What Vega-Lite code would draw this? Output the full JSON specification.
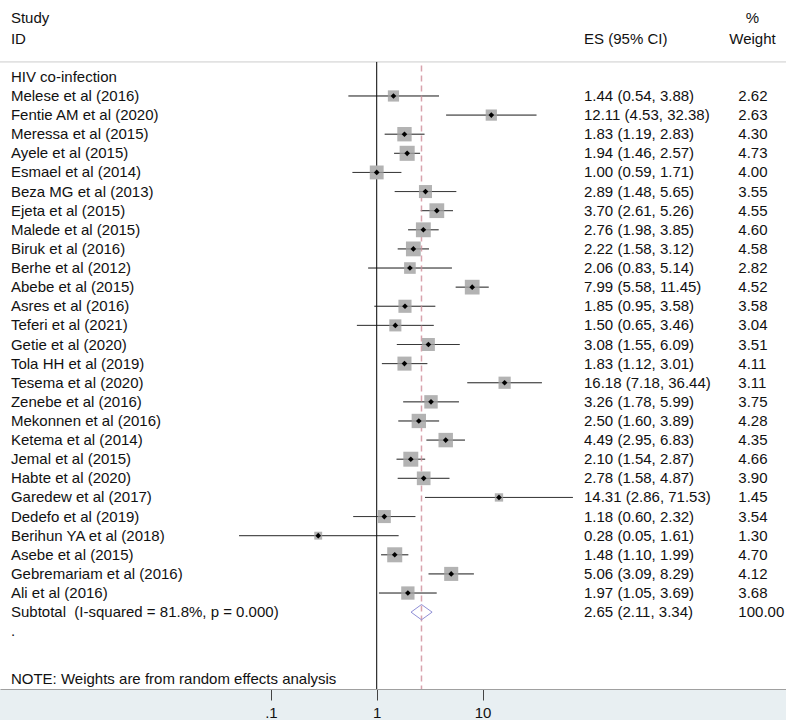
{
  "$schema": "https://vega.github.io/schema/vega-lite/v6.json",
  "width": 786,
  "height": 689,
  "autosize": {"type": "none"},
  "padding": {"left": 0, "right": 0, "top": 0, "bottom": 31},
  "background": "#e8eff2",
  "config": {
    "view": {"fill": "white", "stroke": null},
    "text": {"font": "Liberation Sans", "fontSize": 15, "color": "#111111"},
    "axisX": {
      "grid": false,
      "domainColor": "#a0a0a0",
      "domainWidth": 1,
      "tickColor": "#444444",
      "tickSize": 11,
      "tickWidth": 1,
      "labelFont": "Liberation Sans",
      "labelFontSize": 15,
      "labelColor": "#111111",
      "labelPadding": 5
    }
  },
  "datasets": {
    "rows": [
      {"row": -3.08, "label": "Study", "ci": null, "wt": "%"},
      {"row": -2, "label": "ID", "ci": "ES (95% CI)", "wt": "Weight"},
      {"row": 0, "label": "HIV co-infection", "ci": null, "wt": null},
      {"row": 1, "label": "Melese et al (2016)", "ci": "1.44 (0.54, 3.88)", "wt": "2.62"},
      {"row": 2, "label": "Fentie AM et al (2020)", "ci": "12.11 (4.53, 32.38)", "wt": "2.63"},
      {"row": 3, "label": "Meressa et al (2015)", "ci": "1.83 (1.19, 2.83)", "wt": "4.30"},
      {"row": 4, "label": "Ayele et al (2015)", "ci": "1.94 (1.46, 2.57)", "wt": "4.73"},
      {"row": 5, "label": "Esmael et al (2014)", "ci": "1.00 (0.59, 1.71)", "wt": "4.00"},
      {"row": 6, "label": "Beza MG et al (2013)", "ci": "2.89 (1.48, 5.65)", "wt": "3.55"},
      {"row": 7, "label": "Ejeta et al (2015)", "ci": "3.70 (2.61, 5.26)", "wt": "4.55"},
      {"row": 8, "label": "Malede et al (2015)", "ci": "2.76 (1.98, 3.85)", "wt": "4.60"},
      {"row": 9, "label": "Biruk et al (2016)", "ci": "2.22 (1.58, 3.12)", "wt": "4.58"},
      {"row": 10, "label": "Berhe et al (2012)", "ci": "2.06 (0.83, 5.14)", "wt": "2.82"},
      {"row": 11, "label": "Abebe et al (2015)", "ci": "7.99 (5.58, 11.45)", "wt": "4.52"},
      {"row": 12, "label": "Asres et al (2016)", "ci": "1.85 (0.95, 3.58)", "wt": "3.58"},
      {"row": 13, "label": "Teferi et al (2021)", "ci": "1.50 (0.65, 3.46)", "wt": "3.04"},
      {"row": 14, "label": "Getie et al (2020)", "ci": "3.08 (1.55, 6.09)", "wt": "3.51"},
      {"row": 15, "label": "Tola HH et al (2019)", "ci": "1.83 (1.12, 3.01)", "wt": "4.11"},
      {"row": 16, "label": "Tesema et al (2020)", "ci": "16.18 (7.18, 36.44)", "wt": "3.11"},
      {"row": 17, "label": "Zenebe et al (2016)", "ci": "3.26 (1.78, 5.99)", "wt": "3.75"},
      {"row": 18, "label": "Mekonnen et al (2016)", "ci": "2.50 (1.60, 3.89)", "wt": "4.28"},
      {"row": 19, "label": "Ketema et al (2014)", "ci": "4.49 (2.95, 6.83)", "wt": "4.35"},
      {"row": 20, "label": "Jemal et al (2015)", "ci": "2.10 (1.54, 2.87)", "wt": "4.66"},
      {"row": 21, "label": "Habte et al (2020)", "ci": "2.78 (1.58, 4.87)", "wt": "3.90"},
      {"row": 22, "label": "Garedew et al (2017)", "ci": "14.31 (2.86, 71.53)", "wt": "1.45"},
      {"row": 23, "label": "Dedefo et al (2019)", "ci": "1.18 (0.60, 2.32)", "wt": "3.54"},
      {"row": 24, "label": "Berihun YA et al (2018)", "ci": "0.28 (0.05, 1.61)", "wt": "1.30"},
      {"row": 25, "label": "Asebe et al (2015)", "ci": "1.48 (1.10, 1.99)", "wt": "4.70"},
      {"row": 26, "label": "Gebremariam et al (2016)", "ci": "5.06 (3.09, 8.29)", "wt": "4.12"},
      {"row": 27, "label": "Ali et al (2016)", "ci": "1.97 (1.05, 3.69)", "wt": "3.68"},
      {"row": 28, "label": "Subtotal\u00a0\u00a0(I-squared = 81.8%, p = 0.000)", "ci": "2.65 (2.11, 3.34)", "wt": "100.00"},
      {"row": 29, "label": ".", "ci": null, "wt": null},
      {"row": 31.5, "label": "NOTE: Weights are from random effects analysis", "ci": null, "wt": null}
    ],
    "studies": [
      {"row": 1, "es": 1.44, "lo": 0.54, "hi": 3.88, "w": 2.62},
      {"row": 2, "es": 12.11, "lo": 4.53, "hi": 32.38, "w": 2.63},
      {"row": 3, "es": 1.83, "lo": 1.19, "hi": 2.83, "w": 4.30},
      {"row": 4, "es": 1.94, "lo": 1.46, "hi": 2.57, "w": 4.73},
      {"row": 5, "es": 1.00, "lo": 0.59, "hi": 1.71, "w": 4.00},
      {"row": 6, "es": 2.89, "lo": 1.48, "hi": 5.65, "w": 3.55},
      {"row": 7, "es": 3.70, "lo": 2.61, "hi": 5.26, "w": 4.55},
      {"row": 8, "es": 2.76, "lo": 1.98, "hi": 3.85, "w": 4.60},
      {"row": 9, "es": 2.22, "lo": 1.58, "hi": 3.12, "w": 4.58},
      {"row": 10, "es": 2.06, "lo": 0.83, "hi": 5.14, "w": 2.82},
      {"row": 11, "es": 7.99, "lo": 5.58, "hi": 11.45, "w": 4.52},
      {"row": 12, "es": 1.85, "lo": 0.95, "hi": 3.58, "w": 3.58},
      {"row": 13, "es": 1.50, "lo": 0.65, "hi": 3.46, "w": 3.04},
      {"row": 14, "es": 3.08, "lo": 1.55, "hi": 6.09, "w": 3.51},
      {"row": 15, "es": 1.83, "lo": 1.12, "hi": 3.01, "w": 4.11},
      {"row": 16, "es": 16.18, "lo": 7.18, "hi": 36.44, "w": 3.11},
      {"row": 17, "es": 3.26, "lo": 1.78, "hi": 5.99, "w": 3.75},
      {"row": 18, "es": 2.50, "lo": 1.60, "hi": 3.89, "w": 4.28},
      {"row": 19, "es": 4.49, "lo": 2.95, "hi": 6.83, "w": 4.35},
      {"row": 20, "es": 2.10, "lo": 1.54, "hi": 2.87, "w": 4.66},
      {"row": 21, "es": 2.78, "lo": 1.58, "hi": 4.87, "w": 3.90},
      {"row": 22, "es": 14.31, "lo": 2.86, "hi": 71.53, "w": 1.45},
      {"row": 23, "es": 1.18, "lo": 0.60, "hi": 2.32, "w": 3.54},
      {"row": 24, "es": 0.28, "lo": 0.05, "hi": 1.61, "w": 1.30},
      {"row": 25, "es": 1.48, "lo": 1.10, "hi": 1.99, "w": 4.70},
      {"row": 26, "es": 5.06, "lo": 3.09, "hi": 8.29, "w": 4.12},
      {"row": 27, "es": 1.97, "lo": 1.05, "hi": 3.69, "w": 3.68}
    ],
    "pooled": [
      {"x": 2.11, "y": 28, "k": 0},
      {"x": 2.65, "y": 27.6, "k": 1},
      {"x": 3.34, "y": 28, "k": 2},
      {"x": 2.65, "y": 28.4, "k": 3},
      {"x": 2.11, "y": 28, "k": 4}
    ],
    "one": [{}]
  },
  "layer": [
    {
      "data": {"name": "studies"},
      "mark": {"type": "rule", "color": "#3a3a3a", "strokeWidth": 1},
      "encoding": {
        "x": {
          "field": "lo", "type": "quantitative", "title": null,
          "scale": {"type": "log", "domain": [0.000275, 7390], "nice": false},
          "axis": {"values": [0.1, 1, 10], "labelExpr": "datum.value < 0.5 ? '.1' : (datum.value < 5 ? '1' : '10')", "title": null}
        },
        "x2": {"field": "hi"},
        "y": {
          "field": "row", "type": "quantitative", "axis": null,
          "scale": {"domain": [-4.02, 32.02], "reverse": true, "nice": false, "zero": false}
        }
      }
    },
    {
      "data": {"name": "one"},
      "mark": {"type": "rule", "color": "#cccccc", "strokeWidth": 1},
      "encoding": {"y": {"datum": -0.78, "type": "quantitative", "axis": null}}
    },
    {
      "data": {"name": "one"},
      "mark": {"type": "rule", "color": "#000000", "strokeWidth": 1},
      "encoding": {
        "x": {"datum": 1, "type": "quantitative", "title": null},
        "y": {"datum": -0.78, "type": "quantitative", "axis": null},
        "y2": {"datum": 32.02}
      }
    },
    {
      "data": {"name": "one"},
      "mark": {"type": "rule", "color": "#d8a3ad", "strokeWidth": 1.5, "strokeDash": [6, 4]},
      "encoding": {
        "x": {"datum": 2.65, "type": "quantitative", "title": null},
        "y": {"datum": -0.6, "type": "quantitative", "axis": null},
        "y2": {"datum": 32.02}
      }
    },
    {
      "data": {"name": "studies"},
      "mark": {"type": "point", "shape": "square", "filled": true, "color": "#b3b3b3", "opacity": 1},
      "encoding": {
        "x": {"field": "es", "type": "quantitative", "title": null},
        "y": {"field": "row", "type": "quantitative", "axis": null},
        "size": {"field": "w", "type": "quantitative", "legend": null, "scale": {"domain": [0, 5], "range": [0, 240], "zero": true}}
      }
    },
    {
      "data": {"name": "studies"},
      "mark": {"type": "rule", "color": "#3a3a3a", "strokeWidth": 1, "opacity": 0.35},
      "encoding": {
        "x": {"field": "lo", "type": "quantitative", "title": null},
        "x2": {"field": "hi"},
        "y": {"field": "row", "type": "quantitative", "axis": null}
      }
    },
    {
      "data": {"name": "studies"},
      "mark": {"type": "point", "shape": "diamond", "filled": true, "color": "#000000", "size": 32, "opacity": 1},
      "encoding": {
        "x": {"field": "es", "type": "quantitative", "title": null},
        "y": {"field": "row", "type": "quantitative", "axis": null}
      }
    },
    {
      "data": {"name": "pooled"},
      "mark": {"type": "line", "color": "#8f8fd6", "strokeWidth": 1},
      "encoding": {
        "x": {"field": "x", "type": "quantitative", "title": null},
        "y": {"field": "y", "type": "quantitative", "axis": null},
        "order": {"field": "k", "type": "quantitative"}
      }
    },
    {
      "data": {"name": "rows"},
      "mark": {"type": "text", "align": "left", "baseline": "middle"},
      "encoding": {
        "x": {"datum": 0.000349, "type": "quantitative", "title": null},
        "y": {"field": "row", "type": "quantitative", "axis": null},
        "text": {"field": "label"}
      }
    },
    {
      "data": {"name": "rows"},
      "transform": [{"filter": "datum.ci != null"}],
      "mark": {"type": "text", "align": "left", "baseline": "middle"},
      "encoding": {
        "x": {"datum": 91.1, "type": "quantitative", "title": null},
        "y": {"field": "row", "type": "quantitative", "axis": null},
        "text": {"field": "ci"}
      }
    },
    {
      "data": {"name": "rows"},
      "transform": [{"filter": "datum.wt != null && datum.row >= 0"}],
      "mark": {"type": "text", "align": "left", "baseline": "middle"},
      "encoding": {
        "x": {"datum": 2620, "type": "quantitative", "title": null},
        "y": {"field": "row", "type": "quantitative", "axis": null},
        "text": {"field": "wt"}
      }
    },
    {
      "data": {"name": "rows"},
      "transform": [{"filter": "datum.wt != null && datum.row < 0"}],
      "mark": {"type": "text", "align": "center", "baseline": "middle"},
      "encoding": {
        "x": {"datum": 3560, "type": "quantitative", "title": null},
        "y": {"field": "row", "type": "quantitative", "axis": null},
        "text": {"field": "wt"}
      }
    }
  ]
}
